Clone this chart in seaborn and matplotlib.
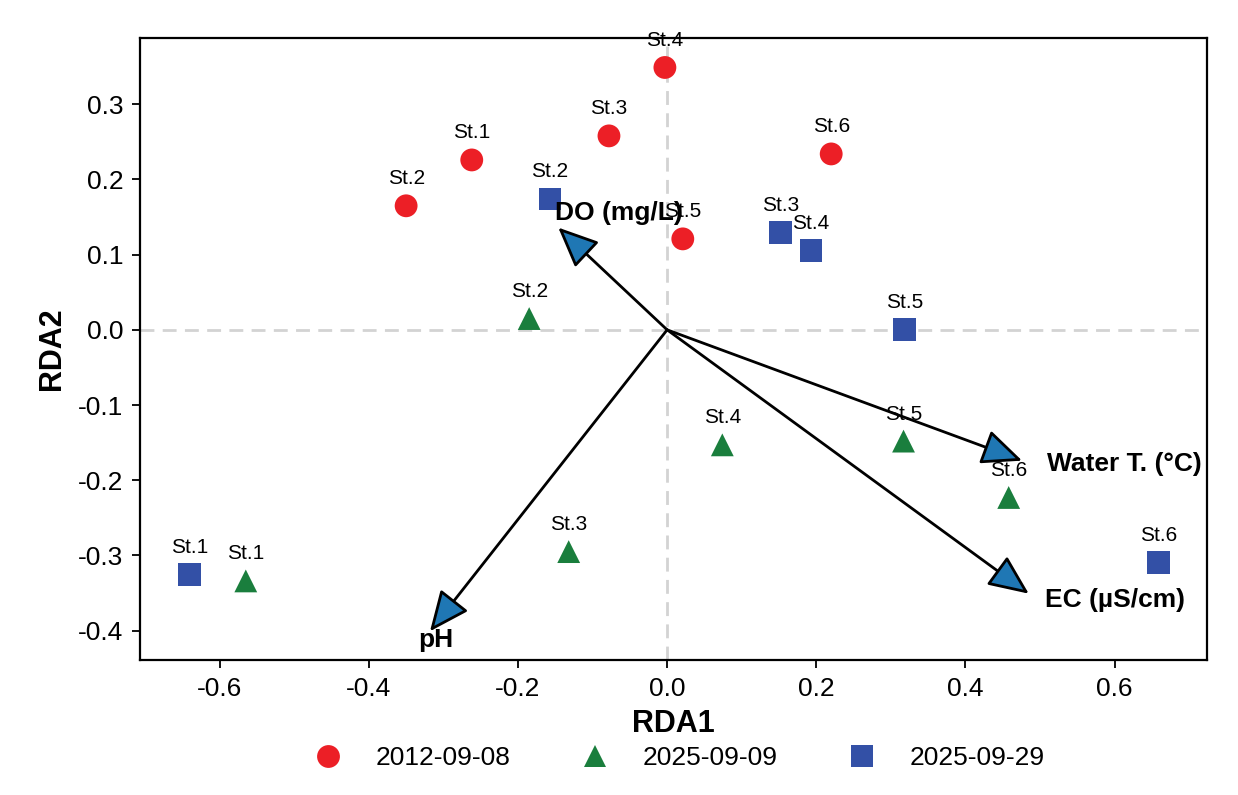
import numpy as np
import pandas as pd
import matplotlib
matplotlib.use("Agg")
import matplotlib.pyplot as plt
import seaborn as sns

# station scores (RDA1, RDA2) per sampling date
stations = ["St.1", "St.2", "St.3", "St.4", "St.5", "St.6"]
dates = ["2012-09-08", "2025-09-09", "2025-09-29"]

rda1_20120908 = [-0.262, -0.350, -0.078, -0.003, 0.021, 0.220]
rda2_20120908 = [0.226, 0.165, 0.258, 0.349, 0.121, 0.234]
rda1_20250909 = [-0.565, -0.185, -0.132, 0.074, 0.317, 0.458]
rda2_20250909 = [-0.334, 0.015, -0.295, -0.153, -0.148, -0.223]
rda1_20250929 = [-0.640, -0.157, 0.152, 0.193, 0.318, 0.659]
rda2_20250929 = [-0.326, 0.174, 0.129, 0.105, 0.000, -0.309]

# environmental vectors
env_vars = ["DO (mg/L)", "Water T. (°C)", "EC (µS/cm)", "pH"]
env_rda1 = [-0.146, 0.476, 0.485, -0.318]
env_rda2 = [0.136, -0.174, -0.351, -0.401]

palette = {"2012-09-08": "#EC1F26", "2025-09-09": "#1A7E3D", "2025-09-29": "#3350A6"}
markers = {"2012-09-08": "o", "2025-09-09": "^", "2025-09-29": "s"}

# label offsets (data units) and alignment for env vector labels
env_label_style = {
    "DO (mg/L)": (-0.004, 0.020, "left"),
    "Water T. (°C)": (0.034, -0.005, "left"),
    "EC (µS/cm)": (0.022, -0.008, "left"),
    "pH": (0.008, -0.012, "center"),
}

df = pd.DataFrame({
    "station": stations * 3,
    "date": [d for d in dates for _ in stations],
    "RDA1": rda1_20120908 + rda1_20250909 + rda1_20250929,
    "RDA2": rda2_20120908 + rda2_20250909 + rda2_20250929,
})

sns.set_style("ticks")
plt.rcParams["font.family"] = ["Liberation Sans", "DejaVu Sans"]
plt.rcParams["axes.unicode_minus"] = False
plt.rcParams["text.color"] = "black"
plt.rcParams["axes.labelcolor"] = "black"
plt.rcParams["xtick.color"] = "black"
plt.rcParams["ytick.color"] = "black"

fig = plt.figure(figsize=(12.38, 7.95), dpi=100)
ax = fig.add_axes([0.113, 0.170, 0.862, 0.782])

ax.axhline(0, color="#d3d3d3", ls=(0, (5, 3)), lw=2, zorder=0)
ax.axvline(0, color="#d3d3d3", ls=(0, (5, 3)), lw=2, zorder=0)

sns.scatterplot(data=df, x="RDA1", y="RDA2", hue="date", style="date",
                palette=palette, markers=markers, s=270, linewidth=0,
                ax=ax, zorder=3)

for _, r in df.iterrows():
    ax.annotate(r["station"], (r["RDA1"], r["RDA2"]), xytext=(0, 19.5),
                textcoords="offset points", ha="center", va="center",
                fontsize=15, zorder=4)

for name, x, y in zip(env_vars, env_rda1, env_rda2):
    ax.annotate("", xy=(x, y), xytext=(0, 0),
                arrowprops=dict(arrowstyle="-|>,head_length=1.25,head_width=0.55",
                                mutation_scale=20, lw=2, ec="black",
                                fc="#1f77b4", shrinkA=0, shrinkB=0),
                zorder=5)
    dx, dy, ha = env_label_style[name]
    ax.text(x + dx, y + dy, name, ha=ha, va="center", fontsize=19,
            fontweight="bold", zorder=6)

ax.set_xlim(-0.707, 0.724)
ax.set_ylim(-0.439, 0.388)
ax.set_xticks([-0.6, -0.4, -0.2, 0.0, 0.2, 0.4, 0.6])
ax.set_yticks([-0.4, -0.3, -0.2, -0.1, 0.0, 0.1, 0.2, 0.3])
ax.tick_params(labelsize=19, length=6, width=1.3, pad=6)
for sp in ax.spines.values():
    sp.set_linewidth(1.6)
    sp.set_color("black")

ax.set_xlabel("RDA1", fontsize=22, fontweight="bold", labelpad=6)
ax.set_ylabel("RDA2", fontsize=22, fontweight="bold", labelpad=8)

sns.move_legend(ax, "center", bbox_to_anchor=(0.5, -0.158), ncol=3,
                frameon=False, title=None, fontsize=19, markerscale=1.0,
                handletextpad=0.8, columnspacing=2.2)

fig.savefig("out.png", dpi=100)
